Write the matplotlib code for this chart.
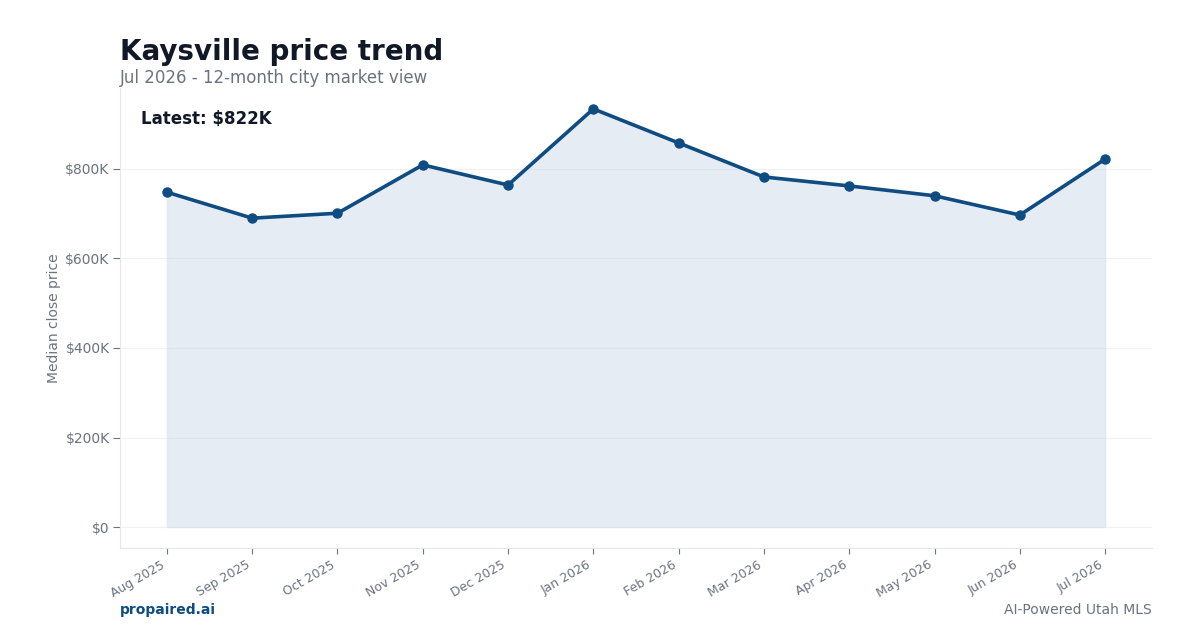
import matplotlib
matplotlib.use("Agg")
import matplotlib.pyplot as plt
from matplotlib.ticker import FuncFormatter

months = ["Aug 2025", "Sep 2025", "Oct 2025", "Nov 2025", "Dec 2025", "Jan 2026",
          "Feb 2026", "Mar 2026", "Apr 2026", "May 2026", "Jun 2026", "Jul 2026"]
prices = [748000, 690000, 701000, 809000, 764000, 934000,
          858000, 782000, 762000, 740000, 697000, 822000]
yticks = [0, 200000, 400000, 600000, 800000]

title = "Kaysville price trend"
subtitle = "Jul 2026 - 12-month city market view"
latest_label = "Latest: $822K"

LINE = "#0f4c81"
GRAY = "#6b7280"
DARK = "#111827"

fig = plt.figure(figsize=(12, 6.3), dpi=100)
ax = fig.add_axes([0.1, 0.1302, 0.86, 0.7301])

x = list(range(len(months)))
ax.fill_between(x, prices, 0, color="#c8d5e5", alpha=0.45, linewidth=1, edgecolor="#d5dde8")
ax.plot(x, prices, color=LINE, linewidth=2.6, marker="o", markersize=6.5, zorder=3)

ax.set_xticks(x)
ax.set_xticklabels(months, rotation=30, ha="right", fontsize=9, color=GRAY)
ax.set_yticks(yticks)
ax.yaxis.set_major_formatter(FuncFormatter(lambda v, p: "$0" if v == 0 else f"${v/1000:.0f}K"))
ax.tick_params(axis="y", labelsize=10, labelcolor=GRAY, color=GRAY, length=5, pad=2.5)
ax.tick_params(axis="x", color=GRAY, length=4)
ax.set_ylabel("Median close price", fontsize=10, color=GRAY, labelpad=3)

ax.grid(axis="y", color="#f0f1f3", linewidth=0.8)
ax.set_axisbelow(True)
for s in ["top", "right"]:
    ax.spines[s].set_visible(False)
for s in ["left", "bottom"]:
    ax.spines[s].set_color("#e5e7eb")

ax.text(0.02, 0.932, latest_label, transform=ax.transAxes, fontsize=12, fontweight="bold",
        color=DARK, va="center", ha="left")

fig.text(0.1, 0.918, title, fontsize=20, fontweight="bold", color=DARK, va="center", ha="left")
fig.text(0.1, 0.876, subtitle, fontsize=12, color=GRAY, va="center", ha="left")
fig.text(0.1, 0.032, "propaired.ai", fontsize=10, fontweight="bold", color=LINE, va="center", ha="left")
fig.text(0.96, 0.032, "AI-Powered Utah MLS", fontsize=10, color=GRAY, va="center", ha="right")

fig.savefig("out.png", dpi=100)
